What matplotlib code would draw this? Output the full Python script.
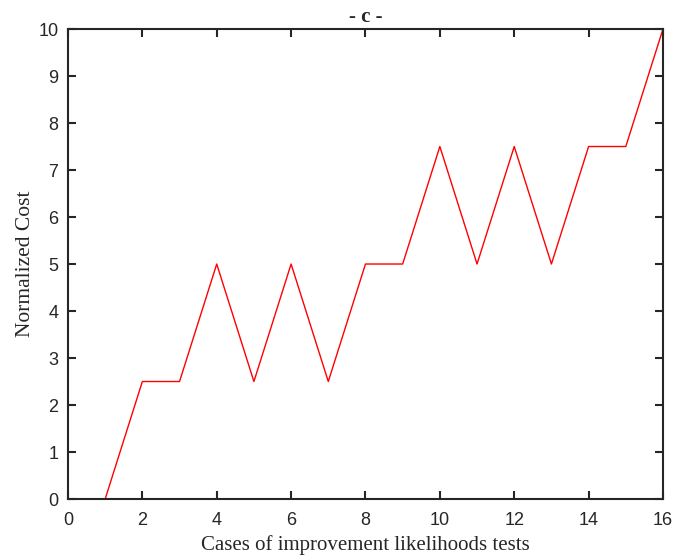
import matplotlib
matplotlib.use("Agg")
import matplotlib.pyplot as plt

# data
cases = [1, 2, 3, 4, 5, 6, 7, 8, 9, 10, 11, 12, 13, 14, 15, 16]
cost = [0, 2.5, 2.5, 5, 2.5, 5, 2.5, 5, 5, 7.5, 5, 7.5, 5, 7.5, 7.5, 10]
x_ticks = [0, 2, 4, 6, 8, 10, 12, 14, 16]
y_ticks = [0, 1, 2, 3, 4, 5, 6, 7, 8, 9, 10]

fig = plt.figure(figsize=(6.75, 5.59), dpi=100)
ax = fig.add_axes([0.1007, 0.1073, 0.8815, 0.8408])

ax.plot(cases, cost, color="red", linewidth=1.0, clip_on=False)

ax.set_xlim(0, 16)
ax.set_ylim(0, 10)
ax.set_xticks(x_ticks)
ax.set_yticks(y_ticks)

edge = "#262626"
for s in ax.spines.values():
    s.set_color(edge)
    s.set_linewidth(1.5)
ax.tick_params(direction="in", top=True, right=True, length=6, width=1.5,
               color=edge, labelsize=13, labelcolor=edge)
ax.tick_params(axis="x", pad=9.5)
ax.tick_params(axis="y", pad=7)
for lbl in ax.get_xticklabels() + ax.get_yticklabels():
    lbl.set_family("Liberation Sans")

ax.set_xlabel("Cases of improvement likelihoods tests", family="Liberation Serif",
              fontsize=15, color=edge, labelpad=4)
ax.set_ylabel("Normalized Cost", family="Liberation Serif", fontsize=15.5,
              color=edge, labelpad=2.5)
ax.set_title("- c -", family="Liberation Serif", fontweight="bold", fontsize=15,
             color=edge, pad=5)

fig.savefig("out.png", dpi=100)
